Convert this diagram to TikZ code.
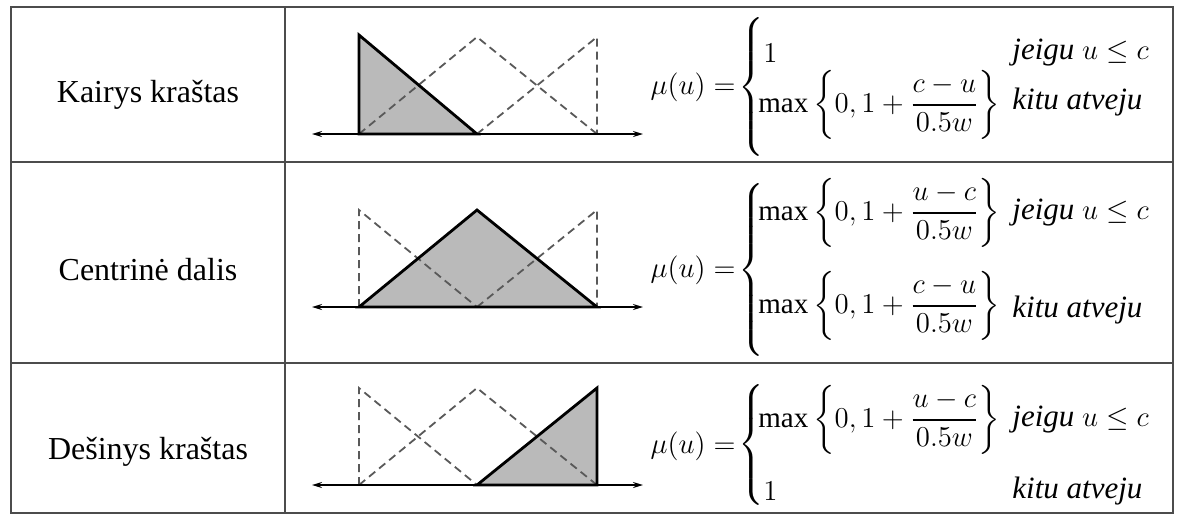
\documentclass[tikz,border=0pt]{standalone}
\usepackage{amsmath}
\usepackage{fontspec}
\setmainfont{Liberation Serif}
\usetikzlibrary{arrows.meta,positioning}

\begin{document}
\begin{tikzpicture}[x=0.5pt,y=-0.5pt,
  grid/.style={draw=black!70,line width=1.2pt},
  axis/.style={line width=0.8pt,{Stealth[length=5pt,width=3pt]}-{Stealth[length=5pt,width=3pt]}},
  memfill/.style={fill=black!27},
  memb/.style={draw=black,line width=1.4pt,line join=miter},
  other/.style={draw=black!65,line width=0.9pt,dash pattern=on 4pt off 2.5pt},
  lbl/.style={font=\fontsize{16}{19}\selectfont},
  eq/.style={font=\fontsize{14.5}{17}\selectfont,inner sep=0pt},
  cond/.style={font=\fontsize{15.5}{18}\selectfont,inner sep=0pt,anchor=west},
]
\useasboundingbox (0,0) rectangle (1179,516);

%-------------------------------------------------
% Table
%-------------------------------------------------

\draw[grid] (11,7) rectangle (1173,513);
\draw[grid] (285,7) -- (285,513);
\draw[grid] (11,162) -- (1173,162);
\draw[grid] (11,363) -- (1173,363);

\node[lbl] (kairys) at (148,95) {Kairys kraštas};
\node[lbl] (centr) at (148,270) {Centrinė dalis};
\node[lbl] (desin) at (148,452) {Dešinys kraštas};

%-------------------------------------------------
% Kairys krastas
%-------------------------------------------------

\fill[memfill] (359,35) -- (359,134) -- (477,134) -- cycle;
\draw[other] (359,134) -- (477,37) -- (597,134);
\draw[other] (477,134) -- (597,37) -- (597,134);
\draw[axis] (312,134) -- (643,134);
\draw[memb] (359,35) -- (359,134) -- (477,134) -- cycle;

\node[eq,anchor=west] (br1) at (738,87) {$\left\{\rule[-30pt]{0pt}{60pt}\right.$};
\node[eq,left=1pt of br1] (mu1) {$\mu(u)=$};
\node[eq,anchor=west] (c1a) at (763,53) {$1$};
\node[eq,anchor=west] (c1b) at (758,105) {$\max\left\{0,1+\dfrac{c-u}{0.5w}\right\}$};
\node[cond] (j1) at (1012,53) {\textit{jeigu} $u\le c$};
\node[cond] (k1) at (1012,102) {\textit{kitu atveju}};

%-------------------------------------------------
% Centrine dalis
%-------------------------------------------------

\fill[memfill] (359,307) -- (477,210) -- (597,307) -- cycle;
\draw[other] (359,307) -- (359,210) -- (477,307);
\draw[other] (477,307) -- (597,210) -- (597,307);
\draw[axis] (312,307) -- (643,307);
\draw[memb] (359,307) -- (477,210) -- (597,307) -- cycle;

\node[eq,anchor=west] (br2) at (738,270) {$\left\{\rule[-39pt]{0pt}{78pt}\right.$};
\node[eq,left=1pt of br2] (mu2) {$\mu(u)=$};
\node[eq,anchor=west] (c2a) at (758,213) {$\max\left\{0,1+\dfrac{u-c}{0.5w}\right\}$};
\node[eq,anchor=west] (c2b) at (758,306) {$\max\left\{0,1+\dfrac{c-u}{0.5w}\right\}$};
\node[cond] (j2) at (1012,213) {\textit{jeigu} $u\le c$};
\node[cond] (k2) at (1012,310) {\textit{kitu atveju}};

%-------------------------------------------------
% Desinys krastas
%-------------------------------------------------

\fill[memfill] (477,485) -- (597,388) -- (597,485) -- cycle;
\draw[other] (359,485) -- (359,388) -- (477,485);
\draw[other] (359,485) -- (477,388) -- (597,485);
\draw[axis] (312,485) -- (643,485);
\draw[memb] (477,485) -- (597,388) -- (597,485) -- cycle;

\node[eq,anchor=west] (br3) at (738,446) {$\left\{\rule[-28pt]{0pt}{56pt}\right.$};
\node[eq,left=1pt of br3] (mu3) {$\mu(u)=$};
\node[eq,anchor=west] (c3a) at (758,420) {$\max\left\{0,1+\dfrac{u-c}{0.5w}\right\}$};
\node[eq,anchor=west] (c3b) at (763,491) {$1$};
\node[cond] (j3) at (1012,420) {\textit{jeigu} $u\le c$};
\node[cond] (k3) at (1012,491) {\textit{kitu atveju}};

\end{tikzpicture}
\end{document}
